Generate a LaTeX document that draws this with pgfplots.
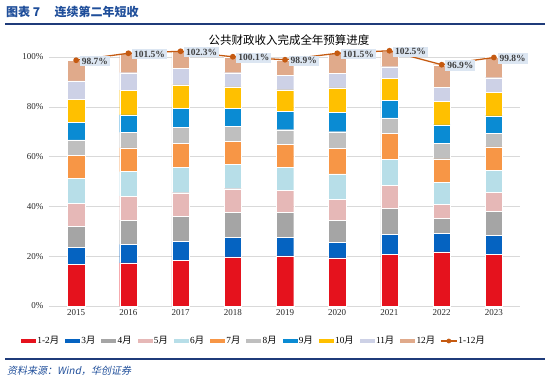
\documentclass[border=0pt]{standalone}
\usepackage{pgfplots}
\usepackage{pgfplotstable}
\pgfplotsset{compat=1.18}
\usepackage{fontspec}
\setmainfont{Liberation Serif}
\newfontfamily\cjk{Noto Sans CJK SC}
\newfontfamily\cjkit{Noto Sans CJK SC}[FakeSlant=0.2]
\definecolor{cA}{HTML}{E5121D}
\definecolor{cB}{HTML}{0563C1}
\definecolor{cC}{HTML}{A5A5A5}
\definecolor{cD}{HTML}{E6B8B7}
\definecolor{cE}{HTML}{B7DEE8}
\definecolor{cF}{HTML}{F79646}
\definecolor{cG}{HTML}{BFBFBF}
\definecolor{cH}{HTML}{0A8BD3}
\definecolor{cI}{HTML}{FFC000}
\definecolor{cJ}{HTML}{CDD1E6}
\definecolor{cK}{HTML}{E0AA8B}
\definecolor{cLine}{HTML}{C55A11}
\definecolor{lblbg}{HTML}{DCE6F2}
\definecolor{hdr}{HTML}{1F4E9A}
\definecolor{hdrline}{HTML}{1F3B7A}
\definecolor{gridc}{HTML}{D9D9D9}
\pgfplotstableread{
x a b c d e f g h i j k tot
0 16.7 6.9 8.4 9.3 10.0 9.1 6.3 7.0 9.4 7.3 8.3 98.7
1 17.3 7.4 9.8 9.6 9.9 9.5 6.2 7.1 9.9 7.0 7.8 101.5
2 18.4 7.7 9.9 9.5 10.2 9.6 6.4 7.6 9.5 6.7 6.8 102.3
3 19.7 7.8 10.0 9.6 9.7 9.3 6.0 7.2 8.7 5.7 6.4 100.1
4 20.1 7.5 9.9 8.9 9.3 9.1 6.0 7.3 8.7 5.9 6.2 98.9
5 19.3 6.2 8.9 8.5 10.2 10.2 6.7 7.7 9.9 5.9 8.0 101.5
6 20.8 7.9 10.5 9.3 10.3 10.5 6.3 6.9 9.0 4.6 6.4 102.5
7 21.7 7.6 5.9 5.7 8.8 9.4 6.2 7.4 9.4 5.8 9.0 96.9
8 20.7 7.8 9.6 7.5 8.8 9.5 5.4 7.1 9.3 6.0 8.1 99.8
}\data
\begin{document}
\begin{tikzpicture}[x=1pt,y=1pt]
\useasboundingbox (0,0) rectangle (550,384);
\pgfplotsset{
  common/.style={
    scale only axis, width=471pt, height=249pt,
    at={(49pt,78pt)}, anchor=south west,
    xmin=-0.52, xmax=8.5, ymin=0, ymax=100,
    clip=false,
    /pgf/number format/assume math mode=true,
  }
}
\begin{axis}[common,
  ybar stacked, bar width=17.3pt,
  axis x line*=bottom, axis y line*=left,
  x axis line style={draw=gridc, line width=0.8pt, -},
  y axis line style={draw=none},
  ymajorgrids, grid style={draw=gridc, line width=0.6pt},
  ytick={0,20,40,60,80,100},
  yticklabel={\pgfmathprintnumber{\tick}\%},
  yticklabel style={xshift=-2pt},
  xtick={0,...,8},
  xticklabels={2015,2016,2017,2018,2019,2020,2021,2022,2023},
  tick style={draw=none},
  ticklabel style={font=\fontsize{9}{10}\selectfont, text=black!85},
  legend columns=12,
  legend style={at={(0.433,-0.1406)}, anchor=center, draw=none, fill=none,
    font=\fontsize{9.3}{10}\selectfont, inner sep=0pt,
    /tikz/every even column/.append style={column sep=4pt},
    nodes={inner sep=1pt}},
  legend image code/.code={\fill[#1] (0pt,-2.5pt) rectangle (16pt,2.5pt);},
  every axis plot/.append style={draw=white, line width=0.3pt},
]
\addplot[fill=cA] table[x=x,y=a]{\data}; \addlegendentry{1-2{\cjk 月}}
\addplot[fill=cB] table[x=x,y=b]{\data}; \addlegendentry{3{\cjk 月}}
\addplot[fill=cC] table[x=x,y=c]{\data}; \addlegendentry{4{\cjk 月}}
\addplot[fill=cD] table[x=x,y=d]{\data}; \addlegendentry{5{\cjk 月}}
\addplot[fill=cE] table[x=x,y=e]{\data}; \addlegendentry{6{\cjk 月}}
\addplot[fill=cF] table[x=x,y=f]{\data}; \addlegendentry{7{\cjk 月}}
\addplot[fill=cG] table[x=x,y=g]{\data}; \addlegendentry{8{\cjk 月}}
\addplot[fill=cH] table[x=x,y=h]{\data}; \addlegendentry{9{\cjk 月}}
\addplot[fill=cI] table[x=x,y=i]{\data}; \addlegendentry{10{\cjk 月}}
\addplot[fill=cJ] table[x=x,y=j]{\data}; \addlegendentry{11{\cjk 月}}
\addplot[fill=cK] table[x=x,y=k]{\data}; \addlegendentry{12{\cjk 月}}
\addlegendimage{legend image code/.code={
  \draw[cLine, line width=1.3pt] (0pt,0pt) -- (16pt,0pt);
  \fill[cLine] (8pt,0pt) circle (2.2pt);}}
\addlegendentry{1-12{\cjk 月}}
\end{axis}
\begin{axis}[common, axis lines=none, ticks=none,
  nodes near coords={\pgfmathprintnumber[fixed,fixed zerofill,precision=1]{\pgfplotspointmeta}\%},
  every node near coord/.append style={anchor=west, xshift=3pt, yshift=-1pt,
    fill=lblbg, inner sep=2pt, text=black!75,
    font=\fontsize{9.5}{10}\selectfont\bfseries},
]
\addplot[cLine, line width=1.3pt, mark=*, mark size=2.2pt,
  mark options={fill=cLine, draw=cLine}] table[x=x,y=tot]{\data};
\end{axis}
% header
\node[anchor=west, text=hdr, font=\fontsize{12}{13}\selectfont\bfseries\cjk, inner sep=0pt]
  at (6,372) {图表 7\hspace{1.2em}连续第二年短收};
\draw[hdrline, line width=1.8pt] (5,360) -- (545,360);
% title
\node[font=\fontsize{11.5}{12}\selectfont\cjk, text=black, inner sep=0pt]
  at (289,344) {公共财政收入完成全年预算进度};
% footer
\draw[hdrline, line width=1.4pt] (5,25) -- (545,25);
\node[anchor=west, text=hdr, font=\fontsize{10}{11}\selectfont\cjkit, inner sep=0pt]
  at (7,13) {资料来源：Wind，华创证券};
\end{tikzpicture}
\end{document}
